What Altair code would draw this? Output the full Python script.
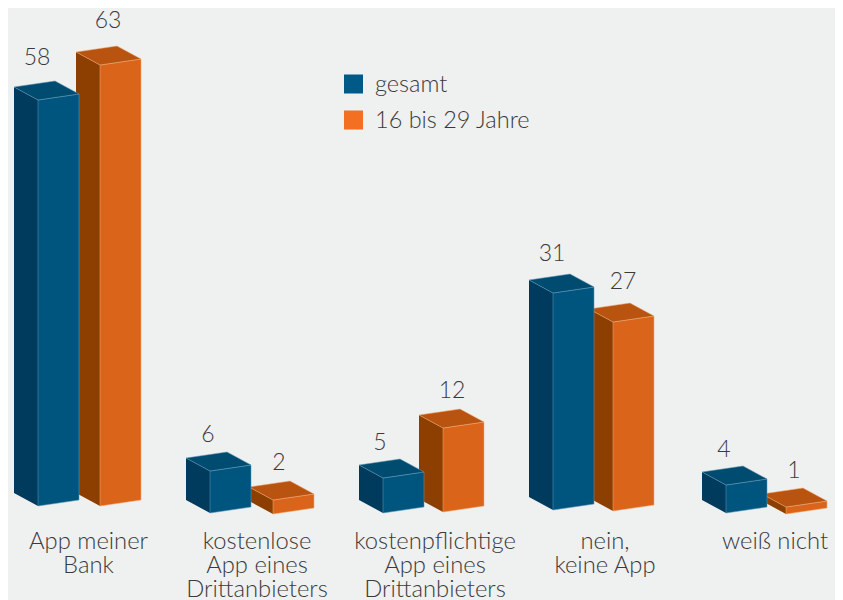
import altair as alt
import pandas as pd

# --- chart values ---
categories = [
    "App meiner\nBank",
    "kostenlose\nApp eines\nDrittanbieters",
    "kostenpflichtige\nApp eines\nDrittanbieters",
    "nein,\nkeine App",
    "weiß nicht",
]
series_names = ["gesamt", "16 bis 29 Jahre"]
gesamt = [58, 6, 5, 31, 4]
jung = [63, 2, 12, 27, 1]

# --- layout (page pixels) ---
PAGE_W, PAGE_H = 843, 600
MARGIN = 8
PX_PER_UNIT = 7.0
ZERO_Y = 506
front_x = {"gesamt": [38, 210, 383, 553, 726], "jung": [100, 273, 443, 613, 786]}
base_y = {"gesamt": [506, 513, 513, 510, 513], "jung": [506, 514, 512, 511, 514]}
label_x = {"gesamt": [37, 208, 380, 552, 724], "jung": [108, 279, 452, 623, 794]}
label_gap = {"gesamt": [42, 36, 35, 39, 35], "jung": [44, 37, 37, 40, 36]}
cat_x = [88.5, 257, 435, 605, 775]
cat_y = 542
FRONT_W, SIDE_DX, SIDE_DY, FRONT_DY = 41, 24, 13, 6

colors = {
    "gesamt": {"front": "#00557F", "side": "#003A5D", "top": "#004B70", "edge": "#5E97B8"},
    "jung": {"front": "#D9641A", "side": "#8C3F00", "top": "#B8540F", "edge": "#F2A874"},
}
BG = "#EFF0F0"
TEXT = "#3A3A3C"
FONT = "Lato"
legend_colors = ["#005A87", "#F36F21"]
legend_x = 353.5
legend_y = [84, 120]
legend_text_y = [85, 121]
legend_text_x = 375


def u(value, base, dy=0):
    """value in chart units, shifted by a projection offset given in pixels"""
    return value + (ZERO_Y - base - dy) / PX_PER_UNIT


x_scale = alt.Scale(domain=[MARGIN, PAGE_W - MARGIN], range=[0, PAGE_W - 2 * MARGIN])
y_top = u(0, MARGIN)
y_bot = u(0, PAGE_H)
y_scale = alt.Scale(domain=[y_bot, y_top], range=[PAGE_H - MARGIN, 0], nice=False, zero=False)
X = alt.X("x:Q", scale=x_scale, axis=None)
Y = alt.Y("y:Q", scale=y_scale, axis=None)


def face(points, fill, edge=None):
    df = pd.DataFrame(points, columns=["x", "y", "y2"])
    kw = dict(fill=fill, interpolate="linear", clip=False)
    if edge:
        kw.update(stroke=edge, strokeWidth=0.7, strokeOpacity=0.75)
    return alt.Chart(df).mark_area(**kw).encode(x=X, y=Y, y2="y2:Q")


def bar(key, i, value):
    c = colors[key]
    fx, b = front_x[key][i], base_y[key][i]
    lx, rx, bx = fx - SIDE_DX, fx + FRONT_W, fx - SIDE_DX + FRONT_W
    side = face(
        [
            (lx, u(value, b, -SIDE_DY), u(0, b, -SIDE_DY)),
            (fx, u(value, b), u(0, b)),
        ],
        c["side"],
    )
    front = face(
        [
            (fx, u(value, b), u(0, b)),
            (rx, u(value, b, -FRONT_DY), u(0, b, -FRONT_DY)),
        ],
        c["front"],
        c["edge"],
    )
    s = FRONT_DY / FRONT_W
    top = face(
        [
            (lx, u(value, b, -SIDE_DY), u(value, b, -SIDE_DY)),
            (fx, u(value, b, -SIDE_DY - s * SIDE_DX), u(value, b)),
            (bx, u(value, b, -SIDE_DY - FRONT_DY), u(value, b, -s * (bx - fx))),
            (rx, u(value, b, -FRONT_DY), u(value, b, -FRONT_DY)),
        ],
        c["top"],
        c["edge"],
    )
    return [side, front, top]


layers = []
for i in range(len(categories)):
    layers += bar("jung", i, jung[i])
    layers += bar("gesamt", i, gesamt[i])

rows = []
for key, vals in (("gesamt", gesamt), ("jung", jung)):
    for i, v in enumerate(vals):
        rows.append(
            {
                "x": label_x[key][i],
                "y": u(v, base_y[key][i], -label_gap[key][i]),
                "t": str(v),
            }
        )
value_labels = (
    alt.Chart(pd.DataFrame(rows))
    .mark_text(font=FONT, fontSize=23, fontWeight=300, color=TEXT, baseline="middle", align="center")
    .encode(x=X, y=Y, text="t:N")
)

cat_df = pd.DataFrame(
    {"x": cat_x, "y": [u(0, cat_y)] * len(cat_x), "t": categories}
)
cat_labels = (
    alt.Chart(cat_df)
    .mark_text(
        font=FONT, fontSize=23.8, fontWeight=300, color=TEXT, baseline="middle",
        align="center", lineBreak="\n", lineHeight=24,
    )
    .encode(x=X, y=Y, text="t:N")
)

leg_df = pd.DataFrame(
    {
        "x": [legend_x] * 2,
        "tx": [legend_text_x] * 2,
        "y": [u(0, v) for v in legend_y],
        "ty": [u(0, v) for v in legend_text_y],
        "t": series_names,
        "c": legend_colors,
    }
)
leg_sq = (
    alt.Chart(leg_df)
    .mark_square(size=361, opacity=1, filled=True)
    .encode(x=X, y=Y, color=alt.Color("c:N", scale=None))
)
leg_txt = (
    alt.Chart(leg_df)
    .mark_text(font=FONT, fontSize=23.5, fontWeight=300, color=TEXT, baseline="middle", align="left")
    .encode(
        x=alt.X("tx:Q", scale=x_scale, axis=None),
        y=alt.Y("ty:Q", scale=y_scale, axis=None),
        text="t:N",
    )
)

chart = (
    alt.layer(*layers, value_labels, cat_labels, leg_sq, leg_txt)
    .properties(
        width=PAGE_W - 2 * MARGIN,
        height=PAGE_H - MARGIN,
        background=BG,
        padding=0,
        autosize=alt.AutoSizeParams(type="none"),
    )
    .configure_view(stroke=None)
)
chart.save("out.html", embed_options={"renderer": "svg", "actions": False})
